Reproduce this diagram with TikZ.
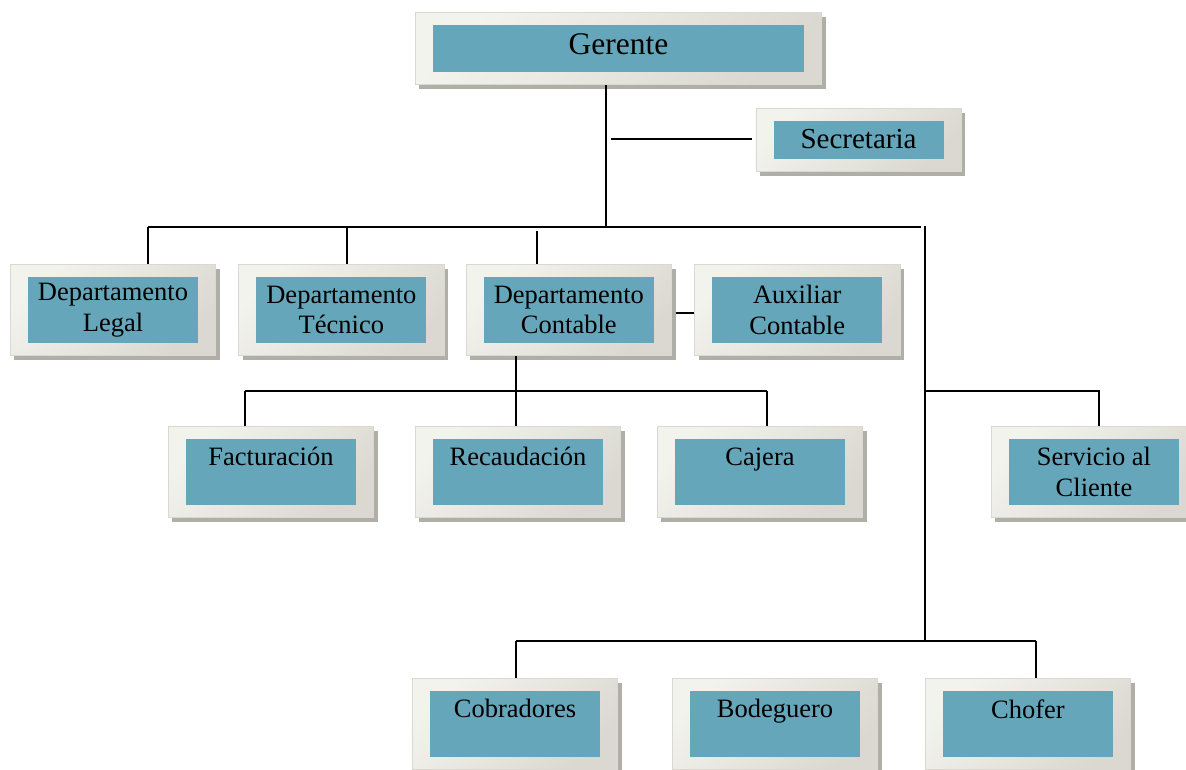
\documentclass[tikz,border=0pt]{standalone}
\usepackage{fontspec}
\setmainfont{Liberation Serif}
\usepackage{xcolor}
\usetikzlibrary{positioning,backgrounds,fit,shadows}
\definecolor{CellC}{RGB}{102,166,186}
\definecolor{FrameL}{RGB}{243,243,238}
\definecolor{FrameR}{RGB}{218,216,208}
\definecolor{ShadeC}{RGB}{176,175,167}
\tikzset{
  cell/.style={fill=CellC,minimum width=170pt,minimum height=66pt,inner sep=0pt,
               align=center,font=\fontsize{26.5}{30.5}\selectfont},
  frame/.style={rectangle,inner xsep=17.5pt,inner ysep=12.5pt,
                left color=FrameL,right color=FrameR,shading angle=45,
                draw=FrameR,line width=0.6pt,
                drop shadow={shadow xshift=4pt,shadow yshift=-4.5pt,fill=ShadeC,opacity=1}},
  conn/.style={line width=1.6pt,black},
}

\begin{document}
\begin{tikzpicture}[x=1pt,y=-1pt]
  \useasboundingbox (0,0) rectangle (1186,769);
  % top
  \node[cell,minimum width=371pt,minimum height=47pt,text depth=8pt,
        font=\fontsize{31.5}{36}\selectfont] (ger) at (618.5,48.5) {Gerente};
  \node[cell,minimum height=38pt,text depth=3pt,
        font=\fontsize{29}{32}\selectfont] (sec) at (858.5,140) {Secretaria};
  % departamentos
  \node[cell] (leg) at (113,310) {Departamento\\Legal};
  \node[cell,right=58pt of leg] (tec) {Departamento\\Técnico};
  \node[cell,right=57pt of tec] (con) {Departamento\\Contable};
  \node[cell,right=58pt of con] (aux) {Auxiliar\\Contable};
  % second level
  \node[cell] (fac) at (271,472) {Facturación\\~};
  \node[cell] (rec) at (518,472) {Recaudación\\~};
  \node[cell] (caj) at (760,472) {Cajera\\~};
  \node[cell] (ser) at (1094,472) {Servicio al\\Cliente};
  \node[cell] (cob) at (515,724) {Cobradores\\~};
  \node[cell] (bod) at (775,724) {Bodeguero\\~};
  \node[cell] (cho) at (1028,724) {Chofer\\~};
  \begin{scope}[on background layer]
    \foreach \c in {ger,sec,leg,tec,con,aux,fac,rec,caj,ser,cob,bod,cho}
      \node[frame,fit=(\c)] (\c-f) {};
  \end{scope}
  % junctions
  \coordinate (spine) at (606,227);
  \coordinate (railW) at (148,227);
  \coordinate (railE) at (921,227);
  \coordinate (tecJ) at (347,227);
  \coordinate (conJ) at (537,231);
  \coordinate (secJ) at (611,139);
  \coordinate (trunk) at (925,226);
  \coordinate (midN) at (516,391);
  \coordinate (midW) at (245,391);
  \coordinate (midE) at (767,391);
  \coordinate (serJ) at (1099,391);
  \coordinate (lowW) at (516,641);
  \coordinate (lowE) at (1036,641);
  % connectors
  \draw[conn] (ger-f.south -| spine) -- (spine);
  \draw[conn] (secJ) -- ([xshift=-4pt]sec-f.west |- secJ);
  \draw[conn] (railW) -- (railE);
  \draw[conn] (railW) -- (railW |- leg-f.north);
  \draw[conn] (tecJ) -- (tecJ |- tec-f.north);
  \draw[conn] (conJ) -- (conJ |- con-f.north);
  \draw[conn] ([xshift=4pt,yshift=-3pt]con-f.east) -- ([yshift=-3pt]aux-f.west);
  \draw[conn] (con-f.south -| midN) -- (midN);
  \draw[conn] (midW) -- (midE);
  \draw[conn] (midW) -- (midW |- fac-f.north);
  \draw[conn] (midN) -- (midN |- rec-f.north);
  \draw[conn] (midE) -- (midE |- caj-f.north);
  \draw[conn] (trunk) -- (trunk |- lowW);
  \draw[conn] (trunk |- serJ) -- (serJ) -- (serJ |- ser-f.north);
  \draw[conn] (lowW) -- (lowE);
  \draw[conn] (lowW) -- (lowW |- cob-f.north);
  \draw[conn] (lowE) -- (lowE |- cho-f.north);
\end{tikzpicture}
\end{document}
